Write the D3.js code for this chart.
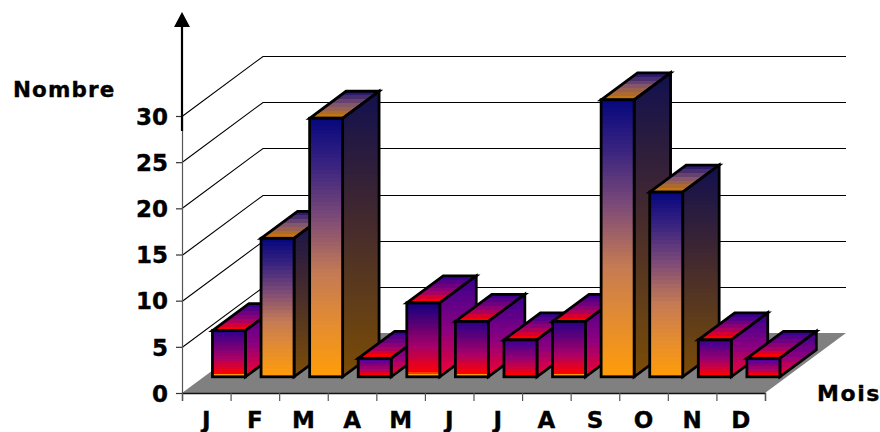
<!DOCTYPE html>
<html lang="fr">
<head>
<meta charset="utf-8">
<script src="https://cdn.jsdelivr.net/npm/d3@7/dist/d3.min.js"></script>
<style>
  html, body { margin: 0; padding: 0; background: #fff; }
  svg { display: block; }
  text { font-family: "DejaVu Sans", Verdana, sans-serif; font-weight: 700; fill: #000; stroke: #000; stroke-width: 0.35px; }
</style>
</head>
<body>
<svg id="chart" width="880" height="432"></svg>
<script>
// Nombre par mois
const months = ["J", "F", "M", "A", "M", "J", "J", "A", "S", "O", "N", "D"];
const counts = [5, 15, 28, 2, 8, 6, 4, 6, 30, 20, 4, 2];
const yTicks = [0, 5, 10, 15, 20, 25, 30];

// Colour ramps for the bar faces, as [offset, colour]
const tallFront = [[0, "#08087f"], [0.18, "#3a2480"], [0.38, "#7c4a78"], [0.6, "#c47a54"], [0.8, "#e48c30"], [1, "#ff9c08"]];
const tallSide = [[0, "#12104e"], [0.4, "#3e2632"], [0.7, "#5c3a1c"], [1, "#7c4c06"]];
const tallTop = [[0, "#2c1a70"], [0.5, "#84566a"], [1, "#c07414"]];
const shortMid = "#a80068";
const shortEnd = "#ff0000";
const bandColor = "#ff9c08";

const svg = d3.select("#chart");
const defs = svg.append("defs");

const x = d3.scaleBand().domain(d3.range(months.length)).range([182, 765]).paddingInner(0);
const xEdges = d3.scaleLinear().domain([0, months.length]).range([182, 765]);
const y = d3.scaleLinear().domain([0, 30]).range([393, 116]);

// Oblique projection of the depth axis: 0 is the front of the floor, 1 the back
const depthX = d3.scaleLinear().domain([0, 1]).range([0, 81]);
const depthY = d3.scaleLinear().domain([0, 1]).range([0, -60]);

const barPad = 7.8;
const barShift = 0.8;
const barFront = 0.27;
const barBack = 0.72;

const pts = a => a.map(p => p.join(",")).join(" ");

// Floor
const x0 = x.range()[0], x1 = x.range()[1], d = 1;
svg.append("polygon")
  .attr("points", pts([[x0, y(0)], [x1, y(0)], [x1 + depthX(d), y(0) + depthY(d)], [x0 + depthX(d), y(0) + depthY(d)]]))
  .attr("fill", "#808080");

// Wall grid lines: one diagonal and one back line per tick
const grid = svg.append("g").attr("fill", "none").attr("stroke", "#000").attr("stroke-width", 1.1);
yTicks.filter(v => v > 0).forEach(v => {
  const py = Math.round(y(v)) + 0.5;
  const backY = Math.round(y(v) + depthY(d)) + 0.5;
  grid.append("polyline")
    .attr("points", pts([[x0, py], [x0 + depthX(d), backY], [x1 + depthX(d), backY]]));
});

// Stepped vertical gradient built from a colour ramp
function steppedGradient(id, ramp, steps) {
  const offs = ramp.map(r => r[0]);
  const cols = ramp.map(r => r[1]);
  const colour = d3.scaleLinear().domain(offs).range(cols).interpolate(d3.interpolateRgb);
  const g = defs.append("linearGradient").attr("id", id).attr("x1", 0).attr("y1", 0).attr("x2", 0).attr("y2", 1);
  d3.range(steps).forEach(i => {
    const c = colour(steps === 1 ? 0 : i / (steps - 1));
    g.append("stop").attr("offset", i / steps).attr("stop-color", c);
    g.append("stop").attr("offset", (i + 1) / steps).attr("stop-color", c);
  });
  return `url(#${id})`;
}

// Short bars run from indigo to red; the darker start belongs to the taller ones
const shortStart = d3.scaleLinear().domain([2, 8]).range(["#52009a", "#14007f"]);

const bars = svg.append("g").attr("stroke", "#000").attr("stroke-width", 2.8).attr("stroke-linejoin", "miter");

counts.forEach((v, i) => {
  const fx0 = x(i) + barPad + barShift + depthX(barFront);
  const fx1 = x(i) + x.bandwidth() - barPad + barShift + depthX(barFront);
  const by = y(0) + depthY(barFront);
  const ty = by - (y(0) - y(v));
  const dx = depthX(barBack - barFront);
  const dy = depthY(barBack - barFront);
  const h = by - ty;

  let frontFill, sideFill, topFill;
  if (v > 10) {
    frontFill = steppedGradient(`front${i}`, tallFront, Math.round(h / 4));
    sideFill = steppedGradient(`side${i}`, tallSide, Math.round((h + 28) / 4));
    topFill = steppedGradient(`top${i}`, tallTop, 7);
  } else {
    const start = shortStart(v);
    const band = v >= 5 ? 2.5 / h : 0;
    const frontRamp = band
      ? [[0, start], [0.6, shortMid], [1 - band - 0.001, shortEnd], [1 - band, bandColor], [1, bandColor]]
      : [[0, start], [0.6, shortMid], [1, shortEnd]];
    frontFill = steppedGradient(`front${i}`, frontRamp, Math.round(h / 2.5));
    sideFill = steppedGradient(`side${i}`, [[0, "#3c008e"], [0.55, "#8c0080"], [1, "#f00030"]], Math.round((h + 28) / 5));
    topFill = steppedGradient(`top${i}`, [[0, "#3a0090"], [0.6, "#9a0070"], [1, "#ff0000"]], 7);
  }

  bars.append("polygon")
    .attr("points", pts([[fx0, ty], [fx0 + dx, ty + dy], [fx1 + dx, ty + dy], [fx1, ty]]))
    .attr("fill", topFill);
  bars.append("polygon")
    .attr("points", pts([[fx1, ty], [fx1 + dx, ty + dy], [fx1 + dx, by + dy], [fx1, by]]))
    .attr("fill", sideFill);
  bars.append("rect")
    .attr("x", fx0).attr("y", ty).attr("width", fx1 - fx0).attr("height", h)
    .attr("fill", frontFill);
});

// Value axis
const yAxis = svg.append("g")
  .attr("transform", `translate(${x0},0)`)
  .call(d3.axisLeft(y).tickValues(yTicks).tickSize(6).tickPadding(8).tickFormat(d3.format("d")));
yAxis.select(".domain").attr("stroke", "#555").attr("stroke-width", 1.2);
yAxis.selectAll(".tick line").attr("stroke", "#333").attr("stroke-width", 1.2);
yAxis.selectAll("text").attr("font-size", 23).attr("dy", "0.36em");
yAxis.attr("font-family", null).attr("font-size", null);

// Arrow continuing the value axis upwards
svg.append("line")
  .attr("x1", x0).attr("x2", x0).attr("y1", 131).attr("y2", 26)
  .attr("stroke", "#000").attr("stroke-width", 2.2);
svg.append("path")
  .attr("d", d3.line()([[x0 - 8, 27], [x0, 12], [x0 + 8, 27]]) + "Z")
  .attr("fill", "#000");

// Month axis: ticks on the band edges, labels in the band centres
const edgeAxis = svg.append("g")
  .attr("transform", `translate(0,${y(0)})`)
  .call(d3.axisBottom(xEdges).tickValues(d3.range(months.length + 1)).tickSize(8).tickFormat(""));
edgeAxis.select(".domain").attr("stroke", "#111").attr("stroke-width", 1.3);
edgeAxis.selectAll(".tick line").attr("stroke", "#555").attr("stroke-width", 1.2);

const monthAxis = svg.append("g")
  .attr("transform", `translate(0,${y(0)})`)
  .call(d3.axisBottom(x).tickSize(0).tickPadding(19).tickFormat(i => months[i]));
monthAxis.select(".domain").remove();
monthAxis.selectAll("text").attr("font-size", 23);
monthAxis.attr("font-family", null).attr("font-size", null);

// Axis titles
svg.append("text").attr("x", 13).attr("y", 97).attr("font-size", 21.5).attr("letter-spacing", 1.1).text("Nombre");
svg.append("text").attr("x", 817).attr("y", 401).attr("font-size", 22).attr("letter-spacing", 1.6).text("Mois");
</script>
</body>
</html>
